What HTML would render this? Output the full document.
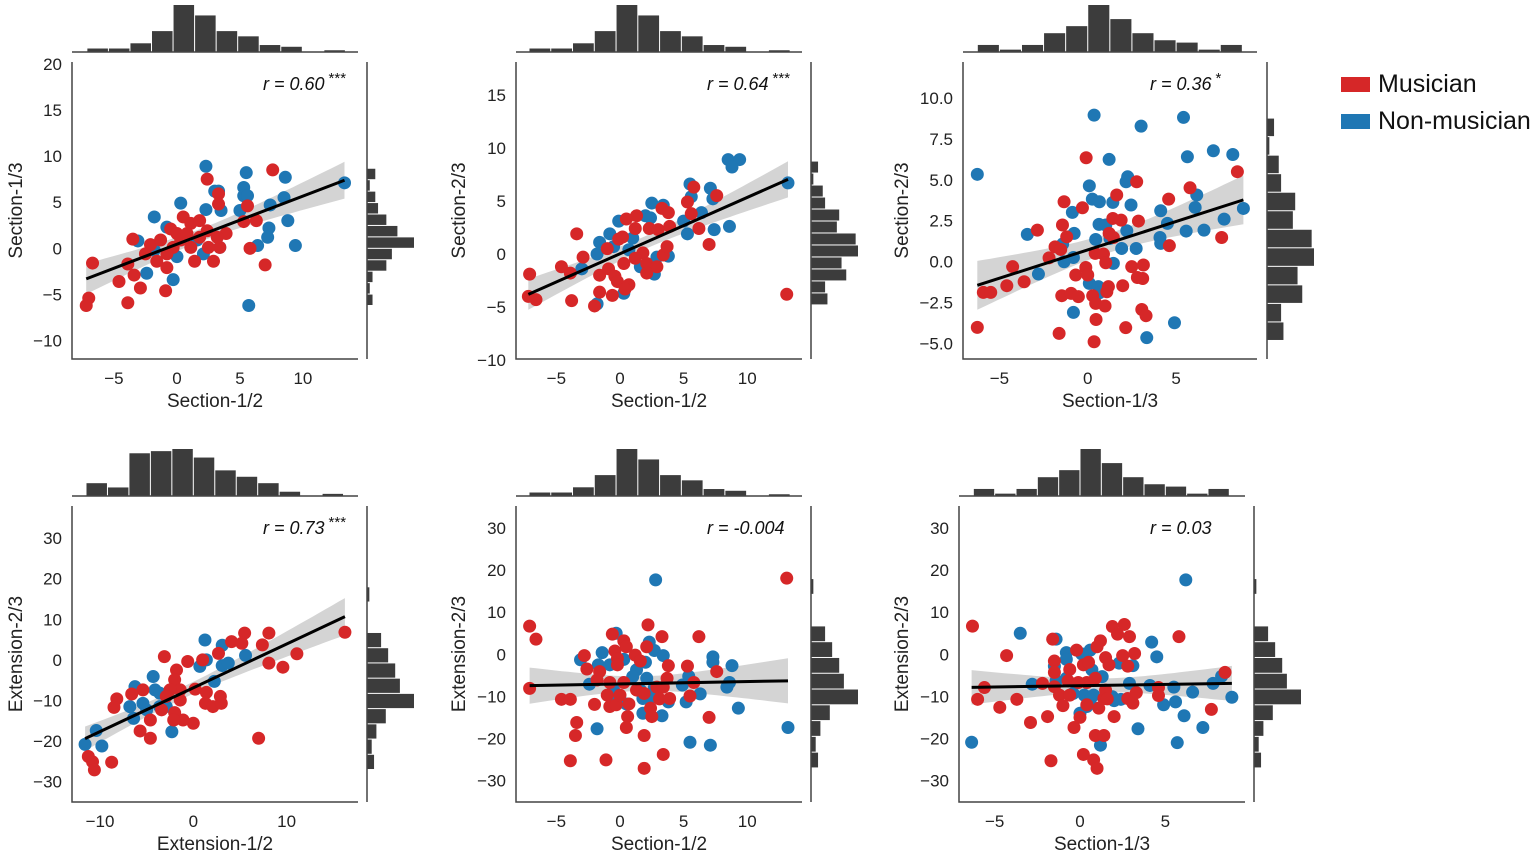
<!DOCTYPE html>
<html><head><meta charset="utf-8"><title>Joint scatter plots</title>
<style>
html,body{margin:0;padding:0;background:#fff;}
svg{display:block;font-family:"Liberation Sans",Arial,sans-serif;}
</style></head>
<body>
<svg id="chart" width="1535" height="857" viewBox="0 0 1535 857" xmlns="http://www.w3.org/2000/svg">
<g>
<rect x="1341" y="77" width="29" height="15" fill="#d62728"/>
<text x="1378" y="92" font-size="25" fill="#111">Musician</text>
<rect x="1341" y="114" width="29" height="15" fill="#1f77b4"/>
<text x="1378" y="129" font-size="25" fill="#111">Non-musician</text>
</g>
</svg>
<script>
// ---------- Panel 1: Section-1/2 vs Section-1/3 ----------
const p1BlueX=[2.3,5.5,8.6,13.3,5.3,5.3,5.6,3.0,3.3,0.3,2.3,3.5,5.0,7.4,8.5,-1.8,8.8,7.3,7.2,9.4,6.4,-3.1,-2.4,-0.3,5.7,-0.8,1.6,2.1,3.4,0,-1.8];
const p1BlueY=[8.9,8.2,7.7,7.1,6.6,5.7,5.7,6.2,6.2,4.9,4.2,4.1,4.1,4.7,5.5,3.4,3.0,2.2,1.2,0.3,0.3,0.8,-2.7,-3.4,-6.2,2.3,0.9,-0.6,0.1,-0.9,-0.2];
const p1RedX=[7.6,2.4,3.3,3.3,5.6,6.3,5.3,0.5,-0.5,1.1,1.8,2.4,3.9,3.4,2.5,5.8,7.0,2.9,1.4,-3.5,-2.1,-1.3,-0.3,-0.8,-1.6,-2.5,-3.9,-6.7,-3.4,-0.8,-4.6,-2.9,-0.9,-7.0,-7.2,-3.9,0,0.3,0.8,1.8,3.2,1.1];
const p1RedY=[8.5,7.5,5.9,4.8,4.6,3.0,2.9,3.4,2.1,2.7,3.0,1.9,1.6,0.1,0.1,0,-1.8,-1.4,-1.4,1.0,0.4,0.9,0.1,-0.6,-1.4,-0.6,-1.7,-1.6,-2.9,-2.1,-3.6,-4.3,-4.6,-5.4,-6.2,-5.9,1.6,0.9,1.6,1.2,1.2,0.1];

// ---------- Panel 2: Section-1/2 vs Section-2/3 ----------
const p2BlueX=[8.5,9.4,8.8,13.2,5.5,5.6,7.1,7.3,2.5,3.4,6.4,2.0,2.4,-0.1,-0.8,1.0,5.0,5.3,7.4,8.6,-1.6,-1.8,-3.0,0.7,1.6,2.7,3.8,0.3,-1.8,2.9,-0.5];
const p2BlueY=[8.9,8.9,8.2,6.7,6.6,5.4,6.2,5.2,4.8,4.6,3.9,3.6,3.4,3.1,1.9,1.5,3.1,1.9,2.3,2.6,1.1,0,-1.4,0.4,-1.2,-1.9,-0.2,-3.7,-4.7,-0.3,0.7];
const p2RedX=[5.8,7.6,5.3,3.3,3.8,5.6,1.3,0.5,1.2,2.3,3.0,3.9,6.2,7.0,-3.4,-0.1,0.2,-1.0,-2.9,-4.6,-3.9,-7.1,-1.6,-0.9,-0.4,-0.2,0.7,0.4,-1.6,-0.6,-3.8,-2.0,-7.2,-6.6,13.1,1.8,2.1,2.9,3.4,3.7,1.2,0.3,2.1];
const p2RedY=[6.3,5.5,4.9,4.3,3.9,3.8,3.6,3.3,2.4,2.4,2.3,2.6,2.4,0.9,1.9,1.4,1.6,0.5,-0.3,-1.2,-1.8,-1.9,-2.0,-1.4,-2.1,-2.6,-2.9,-3.3,-3.6,-3.9,-4.4,-4.9,-4.0,-4.3,-3.8,0.1,-0.9,-1.2,-0.1,0.7,-0.4,-0.9,-1.8];

// ---------- Panel 3: Section-1/3 vs Section-2/3 ----------
const p3BlueX=[0.36,5.42,3.02,7.11,8.21,5.64,1.21,-6.25,2.26,2.17,0.09,6.17,0.26,0.66,1.42,2.45,6.08,8.81,4.13,-0.87,0.64,1.02,4.51,7.72,2.21,-3.42,-0.77,5.57,6.58,0.45,4.09,4.13,-1.42,1.92,2.74,-0.81,-1.34,1.45,-2.79,0.09,0.60,0.66,-0.81,4.91,3.34,1.26];
const p3BlueY=[8.94,8.80,8.27,6.77,6.54,6.40,6.24,5.33,5.18,4.88,4.63,4.07,3.82,3.66,3.62,3.46,3.31,3.25,3.11,3.01,2.28,2.24,2.34,2.60,1.89,1.67,1.73,1.87,1.93,1.36,1.48,1.12,1.08,0.81,0.81,0.26,0.0,-0.10,-0.75,-1.32,-1.52,-1.89,-3.09,-3.72,-4.63,1.42];
const p3RedX=[-0.09,8.47,2.77,5.79,1.64,4.58,-1.34,-0.30,1.42,1.89,2.87,-1.43,-2.85,-1.19,1.21,1.45,7.58,4.62,-1.85,-1.53,-2.19,0.42,0.89,-4.25,1.02,-0.11,2.49,3.15,-0.68,0,2.81,3.11,-3.60,-4.58,1.98,1.17,-5.91,-5.49,-1.47,-0.94,-0.53,0.28,0.45,0.98,3.06,3.30,0.47,-6.25,2.15,-1.62,0.36,1.08];
const p3RedY=[6.34,5.49,4.88,4.51,4.07,3.82,3.66,3.29,2.64,2.54,2.48,2.24,1.93,1.52,1.73,1.48,1.48,0.98,0.91,0.75,0.24,0.51,0.47,-0.30,-0.06,-0.35,-0.30,-0.20,-0.81,-0.81,-0.96,-1.02,-1.22,-1.46,-1.46,-1.52,-1.87,-1.87,-2.07,-1.93,-2.13,-2.07,-2.54,-2.70,-2.91,-3.29,-3.52,-4.00,-4.02,-4.37,-4.88,-1.83];

// ---------- Panel 4: Extension-1/2 vs Extension-2/3 ----------
const p4BlueX=[1.25,3.1,5.6,3.1,2.25,3.75,-6.25,-4.3,-4.1,-6.8,-6.4,-5.4,-3.6,-2.9,-2.3,-9.8,-10.4,-11.6,1.4,0.7,-3.6,-5.0];
const p4BlueY=[4.9,3.6,1.1,-1.4,-5.3,-0.8,-6.6,-4.1,-7.4,-11.5,-14.4,-10.7,-8.2,-11.5,-17.7,-21.2,-17.4,-20.8,0,-1.6,-11.5,-12.3];
const p4RedX=[5.5,8.1,4.1,5.2,7.4,2.7,8.1,9.6,11.1,16.25,-3.1,-0.6,1.0,-1.8,-2.0,-1.4,0.2,1.4,2.9,1.3,2.1,3.0,0,-1.1,-2.0,-2.1,-4.6,-5.7,-4.6,-3.4,-5.4,-6.6,-8.2,-8.5,7.0,-8.75,-11.25,-10.8,-10.6,-2.5,-1.4,-2.9];
const p4RedY=[6.6,6.6,4.5,4.1,3.7,1.6,-0.8,-1.8,1.5,6.8,0.8,-0.4,0,-2.5,-4.9,-7.4,-7.2,-8.0,-9.0,-10.7,-11.5,-10.7,-15.6,-14.8,-13.0,-14.8,-14.8,-17.5,-19.3,-12.3,-7.4,-8.4,-9.6,-11.7,-19.3,-25.2,-23.8,-25.1,-27.1,-7.4,-9.9,-9.0];

// ---------- Panel 5: Section-1/2 vs Extension-2/3 ----------
const p5BlueX=[2.8,-0.3,2.3,2.7,-1.4,-3.1,-1.7,-0.8,0.3,2.0,3.4,1.3,1.0,-2.4,2.1,2.7,4.9,5.4,7.3,7.3,8.8,8.6,8.4,6.3,5.2,-0.3,0.5,1.8,2.5,3.8,1.8,3.3,9.3,-1.8,5.5,7.1,13.2,-0.5,1.6];
const p5BlueY=[17.7,5.0,2.9,0.9,0.4,-1.3,-2.5,-2.5,-1.2,-1.9,-0.3,-3.7,-5.3,-7.1,-5.7,-7.9,-7.3,-5.2,-0.6,-1.9,-2.7,-6.7,-7.8,-9.4,-11.3,-10.1,-11.8,-10.5,-10.2,-11.3,-14.0,-14.6,-12.8,-17.7,-20.9,-21.6,-17.4,-8.5,-8.5];
const p5RedX=[13.1,2.2,-7.1,-6.6,-0.6,0.3,0.5,3.3,6.2,2.1,-2.8,-0.4,-0.2,-0.2,1.2,1.6,-2.6,-1.6,-1.8,3.8,5.3,7.6,3.7,5.8,-0.8,0.3,2.9,3.4,1.3,-7.1,-4.6,-3.9,-2.0,-1.0,-0.8,-0.3,0.7,0,1.9,3.1,3.9,5.5,2.4,2.5,0.6,7.0,-3.4,0.5,-3.5,1.9,3.4,-3.9,-1.1,1.9];
const p5RedY=[18.1,7.0,6.7,3.6,4.8,3.2,1.8,4.2,4.2,1.8,-0.3,0.8,-1.0,-2.5,-0.2,-1.6,-3.5,-4.1,-6.1,-2.7,-2.8,-4.1,-5.7,-6.7,-6.7,-6.7,-7.8,-7.8,-8.5,-8.1,-10.7,-10.7,-11.9,-9.7,-12.4,-12.0,-11.8,-9.7,-9.3,-10.6,-10.5,-9.9,-12.8,-14.8,-14.8,-15.0,-16.2,-17.4,-19.3,-19.3,-23.8,-25.3,-25.1,-27.1];

// ---------- Panel 6: Section-1/3 vs Extension-2/3 ----------
const p6BlueX=[6.2,-3.5,-1.4,4.2,-0.8,-0.8,0.6,4.5,0.1,0.7,-1.5,1.3,2.3,3.1,2.9,-2.8,-1.4,-0.8,4.1,5.5,6.6,7.8,8.3,8.9,0.25,0.8,0.6,1.9,2.0,2.4,4.9,5.6,6.1,7.2,0,0.4,3.4,-6.35,1.2,5.7,-0.4];
const p6BlueY=[17.7,5.0,3.6,2.9,0.4,-1.2,1.0,-0.6,0.1,-3.7,-2.8,-5.3,-2.1,-2.7,-6.9,-7.1,-6.3,-5.7,-7.4,-7.8,-9.0,-6.9,-5.2,-10.2,-9.7,-9.7,-10.9,-10.1,-11.0,-10.7,-12.0,-11.3,-14.6,-17.4,-14.0,-12.4,-17.7,-20.9,-21.6,-21.0,-9.3];
const p6RedX=[-6.3,2.6,1.9,2.2,2.9,5.8,-1.6,1.2,1.0,-0.2,3.2,-4.3,1.5,2.5,-1.5,0.2,0.5,1.7,2.8,-1.5,-0.6,-0.7,0.4,0.9,-2.2,-5.6,-1.5,-1.2,-0.6,-0.1,4.6,8.5,1.5,1.4,1.6,2.8,3.1,3.3,4.6,-6.0,-4.7,-3.7,-1.0,0.4,1.1,-1.9,0,2.0,-2.9,-0.35,7.7,0.9,1.4,0.2,-1.7,0.8,1.0];
const p6RedY=[6.7,7.1,6.6,4.8,4.2,4.2,3.6,3.2,1.8,1.0,0.2,-0.3,-0.8,-0.3,-1.6,-2.5,-1.9,-2.5,-2.8,-4.3,-3.6,-6.3,-6.7,-5.7,-6.9,-7.9,-7.7,-9.7,-9.7,-6.7,-7.9,-4.3,-8.5,-10.5,-10.6,-10.5,-11.6,-9.1,-9.8,-10.7,-12.6,-10.7,-12.2,-12.0,-12.8,-14.8,-15.0,-14.8,-16.2,-17.4,-13.1,-19.3,-19.3,-23.8,-25.3,-25.1,-27.1];

// ---------- Marginal histogram counts ----------
const histSec12Counts=[2,2,5,12,27,21,12,9,4,3,0,1];
const histSec12Start=-7.15, histSec12Step=1.71;
const histSec13TopCounts=[3,1,3,8,11,20,14,8,5,4,1,3];
const histSec13TopStart=-6.25, histSec13TopStep=1.25;
const histExt12Counts=[6,4,20,21,22,18,12,9,6,2,0,1];
const histExt12Start=-11.5, histExt12Step=2.3;
const histSec13RightCounts=[2,1,2,7,9,17,11,7,4,3,1,3];
const histSec13RightStart=-6.2, histSec13RightStep=1.24;
const histSec23Counts=[7,6,15,13,20,19,11,12,6,5,1,3];
const histSec23Start=-4.8, histSec23Step=1.13;
const histExt23Counts=[3,2,4,8,20,14,12,9,6,0,0,1];
const histExt23Start=-27.0, histExt23Step=3.75;

// ---------- Axis tick values ----------
const xTicksSec12=[-5,0,5,10];
const xTicksSec13=[-5,0,5];
const xTicksExt12=[-10,0,10];
const yTicksP1=[-10,-5,0,5,10,15,20];
const yTicksP2=[-10,-5,0,5,10,15];
const yTicksP3=[-5,-2.5,0,2.5,5,7.5,10];
const yTicksExt=[-30,-20,-10,0,10,20,30];
const rLabels=["r = 0.60","r = 0.64","r = 0.36","r = 0.73","r = -0.004","r = 0.03"];
const starLabels=["***","***","*","***","",""];

const NS="http://www.w3.org/2000/svg";
const svg=document.getElementById('chart');
function mk(tag,attrs,parent){const e=document.createElementNS(NS,tag);for(const k in attrs)e.setAttribute(k,attrs[k]);(parent||svg).appendChild(e);return e;}

const panels=[
 {key:'p1',box:[72,62,358,359],xlim:[-8.33,14.37],ylim:[-12.0,20.2],xt:xTicksSec12,yt:yTicksP1,dec:0,xl:'Section-1/2',yl:'Section-1/3',bx:p1BlueX,by:p1BlueY,rx:p1RedX,ry:p1RedY,
  th:[histSec12Counts,histSec12Start,histSec12Step],rh:[histSec13RightCounts,histSec13RightStart,histSec13RightStep],rline:367,tline:52,rtx:263,ri:0,ylx:16},
 {key:'p2',box:[516,62,802,359],xlim:[-8.17,14.3],ylim:[-9.9,18.1],xt:xTicksSec12,yt:yTicksP2,dec:0,xl:'Section-1/2',yl:'Section-2/3',bx:p2BlueX,by:p2BlueY,rx:p2RedX,ry:p2RedY,
  th:[histSec12Counts,histSec12Start,histSec12Step],rh:[histSec23Counts,histSec23Start,histSec23Step],rline:811,tline:52,rtx:707,ri:1,ylx:459},
 {key:'p3',box:[963,62,1257,359],xlim:[-7.06,9.58],ylim:[-5.93,12.18],xt:xTicksSec13,yt:yTicksP3,dec:1,xl:'Section-1/3',yl:'Section-2/3',bx:p3BlueX,by:p3BlueY,rx:p3RedX,ry:p3RedY,
  th:[histSec13TopCounts,histSec13TopStart,histSec13TopStep],rh:[histSec23Counts,histSec23Start,histSec23Step],rline:1267,tline:52,rtx:1150,ri:2,ylx:902},
 {key:'p4',box:[72,506,358,802],xlim:[-13.0,17.65],ylim:[-35.0,37.9],xt:xTicksExt12,yt:yTicksExt,dec:0,xl:'Extension-1/2',yl:'Extension-2/3',bx:p4BlueX,by:p4BlueY,rx:p4RedX,ry:p4RedY,
  th:[histExt12Counts,histExt12Start,histExt12Step],rh:[histExt23Counts,histExt23Start,histExt23Step],rline:367,tline:496,rtx:263,ri:3,ylx:16},
 {key:'p5',box:[516,506,802,802],xlim:[-8.17,14.3],ylim:[-35.1,35.25],xt:xTicksSec12,yt:yTicksExt,dec:0,xl:'Section-1/2',yl:'Extension-2/3',bx:p5BlueX,by:p5BlueY,rx:p5RedX,ry:p5RedY,
  th:[histSec12Counts,histSec12Start,histSec12Step],rh:[histExt23Counts,histExt23Start,histExt23Step],rline:811,tline:496,rtx:707,ri:4,ylx:459},
 {key:'p6',box:[959,506,1245,802],xlim:[-7.09,9.67],ylim:[-35.1,35.25],xt:xTicksSec13,yt:yTicksExt,dec:0,xl:'Section-1/3',yl:'Extension-2/3',bx:p6BlueX,by:p6BlueY,rx:p6RedX,ry:p6RedY,
  th:[histSec13TopCounts,histSec13TopStart,histSec13TopStep],rh:[histExt23Counts,histExt23Start,histExt23Step],rline:1254,tline:496,rtx:1150,ri:5,ylx:902}
];

function fmt(v,d){const s=Math.abs(v).toFixed(d);return (v<0?'\u2212':'')+s;}

panels.forEach(P=>{
 const [L,T,R,B]=P.box;
 const sx=v=>L+(v-P.xlim[0])/(P.xlim[1]-P.xlim[0])*(R-L);
 const sy=v=>B-(v-P.ylim[0])/(P.ylim[1]-P.ylim[0])*(B-T);
 const g=mk('g',{});
 
 

 const gt=mk('g',{},g);
 
 
 const [tc,ts,tst]=P.th;const tmax=Math.max(...tc);
 tc.forEach((c,i)=>{
  if(c<=0)return;
  const x0=sx(ts+i*tst),x1=sx(ts+(i+1)*tst),h=c/tmax*47;
  const r=mk('rect',{x:x0+0.5,y:P.tline-h,width:x1-x0-1,height:h,fill:'#3c3c3c'},gt);
  
  
 });
 const tl=mk('line',{x1:L,x2:R,y1:P.tline,y2:P.tline,stroke:'#444','stroke-width':1.5},gt);
 
 

 const gr=mk('g',{},g);
 
 
 const [rc,rs,rst]=P.rh;const rmax=Math.max(...rc);
 rc.forEach((c,i)=>{
  if(c<=0)return;
  const y0=sy(rs+(i+1)*rst),y1=sy(rs+i*rst),w=c/rmax*47;
  const r=mk('rect',{x:P.rline,y:y0+0.5,width:w,height:y1-y0-1,fill:'#3c3c3c'},gr);
  
  
 });
 const rl=mk('line',{x1:P.rline,x2:P.rline,y1:T,y2:B,stroke:'#444','stroke-width':1.5},gr);
 
 

 const xs=P.bx.concat(P.rx),ys=P.by.concat(P.ry);const n=xs.length;
 const mx=xs.reduce((a,b)=>a+b,0)/n,my=ys.reduce((a,b)=>a+b,0)/n;
 let sxx=0,sxy=0;for(let i=0;i<n;i++){sxx+=(xs[i]-mx)**2;sxy+=(xs[i]-mx)*(ys[i]-my);}
 const b1=sxy/sxx,b0=my-b1*mx;
 let sse=0;for(let i=0;i<n;i++)sse+=(ys[i]-b0-b1*xs[i])**2;
 const s=Math.sqrt(sse/(n-2));
 const xmin=Math.min(...xs),xmax=Math.max(...xs);
 const up=[],lo=[];
 for(let k=0;k<=40;k++){const x=xmin+(xmax-xmin)*k/40;const se=s*Math.sqrt(1/n+(x-mx)**2/sxx);const yh=b0+b1*x;
  up.push(sx(x).toFixed(1)+','+sy(yh+1.98*se).toFixed(1));lo.unshift(sx(x).toFixed(1)+','+sy(yh-1.98*se).toFixed(1));}
 const band=mk('polygon',{points:up.concat(lo).join(' '),fill:'#d4d4d4'},g);
 
 

 const gp=mk('g',{},g);
 
 
 P.bx.forEach((x,i)=>{const c=mk('circle',{cx:sx(x),cy:sy(P.by[i]),r:6.5,fill:'#1f77b4'},gp);
  
  });
 P.rx.forEach((x,i)=>{const c=mk('circle',{cx:sx(x),cy:sy(P.ry[i]),r:6.5,fill:'#d62728'},gp);
  
  });

 const line=mk('line',{x1:sx(xmin),y1:sy(b0+b1*xmin),x2:sx(xmax),y2:sy(b0+b1*xmax),stroke:'#000','stroke-width':3},g);
 
 

 const ax=mk('polyline',{points:`${L},${T} ${L},${B} ${R},${B}`,fill:'none',stroke:'#444','stroke-width':1.5},g);
 
 
 P.xt.forEach(v=>{const t=mk('text',{x:sx(v),y:B+25,'text-anchor':'middle','font-size':17,fill:'#222'},g);t.textContent=fmt(v,0);
  
  });
 P.yt.forEach(v=>{const t=mk('text',{x:L-10,y:sy(v)+6,'text-anchor':'end','font-size':17,fill:'#222'},g);t.textContent=fmt(v,P.dec);
  
  });
 const xl=mk('text',{x:(L+R)/2,y:B+48,'text-anchor':'middle','font-size':19,fill:'#222'},g);xl.textContent=P.xl;
 
 
 const yl=mk('text',{x:0,y:0,'text-anchor':'middle','font-size':19,fill:'#222',transform:`translate(${P.ylx+6},${(T+B)/2}) rotate(-90)`},g);yl.textContent=P.yl;
 
 
 const rt=mk('text',{x:P.rtx,y:T+28,'font-size':18,'font-style':'italic',fill:'#111'},g);rt.textContent=rLabels[P.ri];
 
 
 if(starLabels[P.ri]){const bb=rt.getComputedTextLength();
  const st=mk('text',{x:P.rtx+bb+4,y:T+21,'font-size':15,fill:'#111'},g);st.textContent=starLabels[P.ri];
  
  }
});
</script>
</body></html>
